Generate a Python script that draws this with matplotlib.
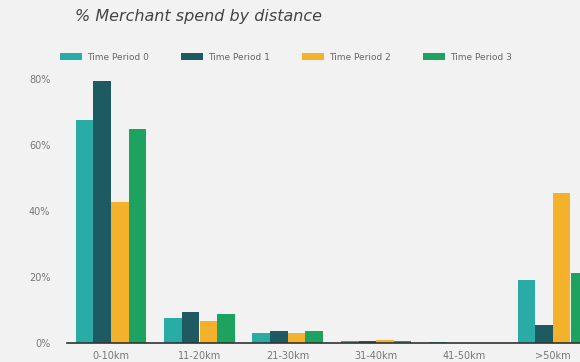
import numpy as np
import matplotlib.pyplot as plt

categories = ["0-10km", "11-20km", "21-30km", "31-40km", "41-50km", ">50km"]
series_names = ["Time Period 0", "Time Period 1", "Time Period 2", "Time Period 3"]
tp0 = [67.6, 7.7, 3.0, 0.6, 0.4, 19.1]
tp1 = [79.4, 9.4, 3.6, 0.7, 0.1, 5.5]
tp2 = [42.7, 6.7, 3.1, 1.0, 0.05, 45.5]
tp3 = [64.8, 8.9, 3.6, 0.6, 0.05, 21.1]
yticks = [0, 20, 40, 60, 80]
colors = ["#2aaca6", "#1d5a62", "#f4b12c", "#1ea260"]

bg = "#f2f2f2"
fig = plt.figure(figsize=(5.8, 3.62), dpi=100, facecolor=bg)
ax = fig.add_axes([67 / 580, 19 / 362, 530 / 580, 264 / 362], facecolor=bg)

x = np.arange(len(categories))
w = 0.2
for i, (vals, name) in enumerate(zip([tp0, tp1, tp2, tp3], series_names)):
    ax.bar(x + (i - 1.5) * w, vals, width=w, color=colors[i], label=name)

ax.set_xlim(-0.5, 5.5)
ax.set_ylim(0, 80)
ax.set_yticks(yticks)
ax.set_yticklabels([f"{t}%" for t in yticks])
ax.set_xticks(x)
ax.set_xticklabels(categories)
ax.tick_params(length=0, labelsize=7, colors="#777777", pad=6)
ax.tick_params(axis="y", pad=12)
for s in ["top", "right", "left"]:
    ax.spines[s].set_visible(False)
ax.spines["bottom"].set_color("#333333")
ax.spines["bottom"].set_linewidth(1.2)

fig.text(75 / 580, 1 - 16 / 362, "% Merchant spend by distance", fontsize=11.5,
         style="italic", color="#444444", va="center")

leg = fig.legend(loc="center left", bbox_to_anchor=(52 / 580, 1 - 57 / 362), ncol=4,
                 frameon=False, fontsize=6.5, handlelength=2.4, handleheight=0.9,
                 columnspacing=3.6, handletextpad=0.55, labelcolor="#666666")

fig.savefig("out.png", dpi=100, facecolor=bg)
